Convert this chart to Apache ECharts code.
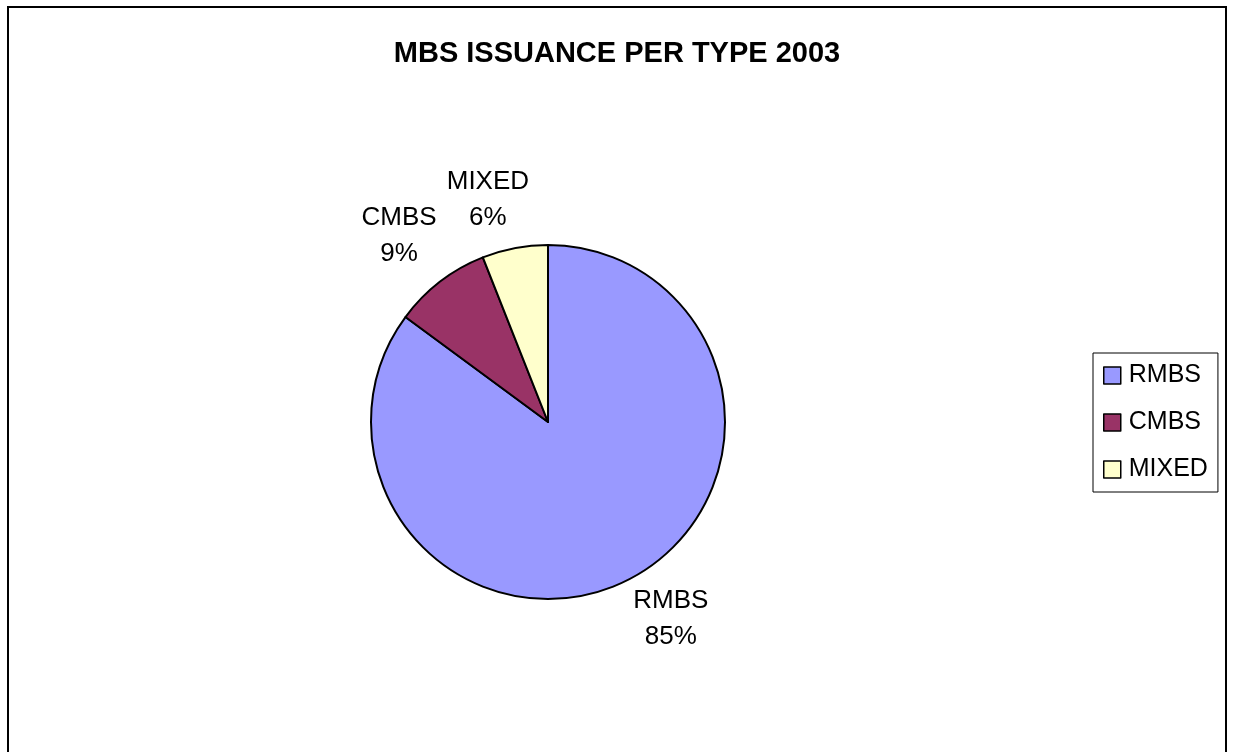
<!DOCTYPE html>
<html>
<head>
<meta charset="utf-8">
<script src="https://cdn.jsdelivr.net/npm/echarts@6/dist/echarts.min.js"></script>
<style>
html,body{margin:0;padding:0;background:#fff;}
#c{width:1234px;height:752px;}
</style>
</head>
<body>
<div id="c"></div>
<script>
var titleText = 'MBS ISSUANCE PER TYPE 2003';
var categories = ['RMBS', 'CMBS', 'MIXED'];
var values = [85.1, 8.9, 6.0];
var colors = ['#9999FF', '#993366', '#FFFFCC'];
var labelDist = [53, 62, 53];
var labelShiftX = [14, 2, -12];
var labelShiftY = [-8, 3, 4];

var chart = echarts.init(document.getElementById('c'), null, {renderer: 'canvas'});
var font = '"Liberation Sans", Arial, sans-serif';

var data = categories.map(function (name, i) {
  return {
    name: name,
    value: values[i],
    itemStyle: {color: colors[i]},
    labelLine: {length: labelDist[i], length2: 0, show: false}
  };
});

chart.setOption({
  animation: false,
  backgroundColor: '#ffffff',
  title: {
    text: titleText,
    left: 'center',
    top: 34,
    textStyle: {fontFamily: font, fontSize: 29, fontWeight: 'bold', color: '#000'}
  },
  graphic: [{
    type: 'rect',
    shape: {x: 8, y: 7, width: 1218, height: 780},
    style: {fill: 'none', stroke: '#000', lineWidth: 2},
    silent: true
  }],
  legend: {
    orient: 'vertical',
    left: 1093,
    top: 353,
    padding: [10, 10, 10, 10],
    itemGap: 22,
    itemWidth: 17,
    itemHeight: 17,
    icon: 'rect',
    borderColor: '#000',
    borderWidth: 1,
    data: categories,
    itemStyle: {borderColor: '#000', borderWidth: 1.5},
    textStyle: {fontFamily: font, fontSize: 25, color: '#000', lineHeight: 24, padding: [0, 0, 0, 3]}
  },
  series: [{
    type: 'pie',
    center: [548, 422],
    radius: 177,
    startAngle: 90,
    clockwise: true,
    avoidLabelOverlap: false,
    itemStyle: {borderColor: '#000', borderWidth: 2},
    label: {
      show: true,
      position: 'outside',
      formatter: function (p) { return p.name + '\n' + Math.round(p.percent) + '%'; },
      fontFamily: font,
      fontSize: 26,
      lineHeight: 36,
      color: '#000'
    },
    labelLayout: function (p) {
      return {align: 'center', verticalAlign: 'middle', dx: labelShiftX[p.dataIndex], dy: labelShiftY[p.dataIndex]};
    },
    data: data
  }]
});
</script>
</body>
</html>
